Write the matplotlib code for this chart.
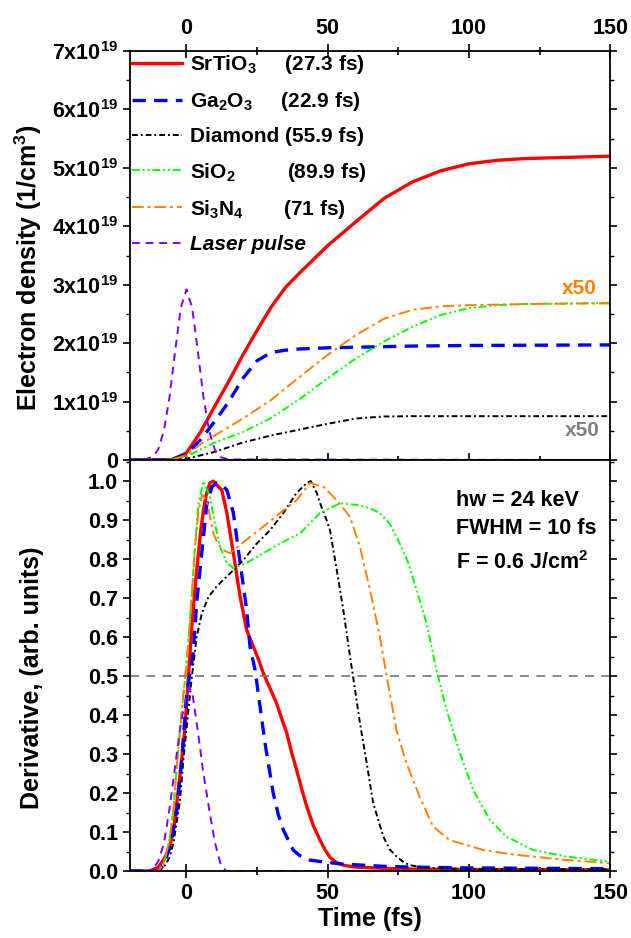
import matplotlib
matplotlib.use("Agg")
import matplotlib.pyplot as plt
from matplotlib.ticker import MultipleLocator, FixedLocator, FormatStrFormatter
import numpy as np

plt.rcParams['font.family'] = ['Liberation Sans', 'DejaVu Sans']
plt.rcParams['font.weight'] = 'bold'
plt.rcParams['mathtext.fontset'] = 'custom'
plt.rcParams['mathtext.rm'] = 'Liberation Sans:bold'
plt.rcParams['mathtext.it'] = 'Liberation Sans:italic:bold'
plt.rcParams['mathtext.bf'] = 'Liberation Sans:bold'
plt.rcParams['axes.linewidth'] = 1.3

# ---- upper panel: electron density (units of 1e19 1/cm^3) ----
t_red = [-20, -10, -5, 0, 5, 10, 15, 20, 25, 30, 35, 40, 50, 60, 70, 80, 90, 100, 110, 120, 135, 150]
red = [0, 0, 0.01, 0.12, 0.48, 0.92, 1.35, 1.8, 2.22, 2.62, 2.95, 3.2, 3.67, 4.08, 4.48, 4.76, 4.95, 5.07, 5.13, 5.16, 5.18, 5.2]

t_blue = [-20, -10, -5, 0, 5, 10, 15, 20, 25, 30, 35, 40, 50, 60, 80, 100, 150]
blue = [0, 0, 0.01, 0.1, 0.35, 0.66, 1.0, 1.4, 1.7, 1.84, 1.88, 1.9, 1.92, 1.93, 1.95, 1.96, 1.97]

t_black = [-20, -10, 0, 10, 20, 30, 40, 50, 60, 70, 80, 150]
black = [0, 0, 0.02, 0.14, 0.3, 0.42, 0.52, 0.62, 0.71, 0.745, 0.75, 0.75]

t_green = [-20, -10, -5, 0, 5, 10, 20, 30, 40, 50, 60, 70, 80, 90, 100, 110, 120, 150]
green = [0, 0, 0.01, 0.06, 0.18, 0.3, 0.48, 0.72, 1.04, 1.4, 1.74, 2.03, 2.28, 2.48, 2.6, 2.65, 2.67, 2.69]

t_orange = [-20, -10, -5, 0, 5, 10, 20, 30, 40, 50, 60, 70, 80, 90, 100, 120, 150]
orange = [0, 0, 0.01, 0.08, 0.27, 0.42, 0.71, 1.03, 1.42, 1.8, 2.14, 2.42, 2.57, 2.63, 2.65, 2.67, 2.68]

t_laser = [-20, -15, -12, -10, -8, -6, -4, -2, 0, 2, 4, 6, 8, 10, 12, 15, 150]
laser = [0, 0.01, 0.05, 0.18, 0.5, 1.08, 1.87, 2.61, 2.92, 2.61, 1.87, 1.08, 0.5, 0.18, 0.05, 0.01, 0]

# ---- lower panel: normalised derivative ----
t_red_d = [-20, -13, -10, -8, -6, -4.5, -3, -1.7, -0.5, 0.7, 2, 3.6, 5, 6, 7, 8.3, 9.5, 10.7, 12.5, 14.3,
           16.6, 19, 21.3, 23.7, 26, 27.2, 29.5, 31.9, 33.5, 35.5, 37, 39, 41, 42.6, 45, 47.3, 49, 50.8,
           53, 56, 60, 70, 80, 100, 150]
red_d = [0, 0, 0.01, 0.03, 0.06, 0.11, 0.2, 0.285, 0.37, 0.5, 0.64, 0.77, 0.87, 0.925, 0.965, 0.995, 1.0,
         0.99, 0.977, 0.918, 0.815, 0.703, 0.618, 0.575, 0.533, 0.507, 0.47, 0.43, 0.395, 0.354, 0.31,
         0.259, 0.205, 0.165, 0.115, 0.079, 0.055, 0.035, 0.022, 0.014, 0.01, 0.007, 0.005, 0.004, 0.003]

t_blue_d = [-20, -10, -8.2, -5.8, -3.4, -1.7, 0.1, 2.4, 3.6, 5.4, 7.2, 9, 10.7, 12.5, 14.3, 16.6, 19,
            21.3, 22.5, 24.3, 25.4, 27.8, 30.7, 32.5, 34.3, 37.8, 40, 43.7, 50, 55, 60, 70, 80, 100, 150]
blue_d = [0, 0, 0.015, 0.062, 0.156, 0.285, 0.456, 0.56, 0.687, 0.815, 0.94, 0.985, 0.995, 0.99, 0.977,
          0.918, 0.79, 0.67, 0.575, 0.515, 0.456, 0.328, 0.2, 0.145, 0.105, 0.054, 0.04, 0.028, 0.022,
          0.018, 0.016, 0.012, 0.01, 0.008, 0.006]

t_black_d = [-20, -10, -8, -6, -4.6, -2.3, -1.1, 0.1, 1.9, 3.6, 5.4, 7.8, 10.7, 15.4, 20.1, 24.9, 29.6,
             34.3, 39, 42.6, 44, 46.1, 47.3, 49.6, 50.8, 53.2, 55.5, 57.9, 59, 61.4, 63.8, 66.1, 69.7,
             72, 74.4, 77, 79.1, 85, 100, 150]
black_d = [0, 0, 0.01, 0.035, 0.072, 0.18, 0.285, 0.37, 0.498, 0.6, 0.66, 0.703, 0.73, 0.763, 0.797,
           0.84, 0.874, 0.918, 0.97, 0.995, 1.0, 0.97, 0.943, 0.9, 0.874, 0.772, 0.67, 0.55, 0.498, 0.38,
           0.277, 0.174, 0.088, 0.055, 0.037, 0.022, 0.015, 0.008, 0.005, 0.004]

t_green_d = [-20, -10, -8, -6, -4.6, -3.4, -2.3, -1, 0, 1, 2, 3, 4.2, 6, 8.3, 10.1, 11.9, 14.3, 16.6,
             21.3, 27.2, 33.1, 40.2, 47.3, 54.3, 61.4, 65, 68.5, 72, 75.5, 78.5, 81.5, 85, 88.5, 92.1,
             96.8, 101.5, 107.4, 113.3, 122.7, 134.5, 150]
green_d = [0, 0, 0.02, 0.08, 0.16, 0.27, 0.36, 0.46, 0.53, 0.62, 0.72, 0.83, 0.94, 1.0, 0.96, 0.89,
           0.83, 0.79, 0.777, 0.79, 0.815, 0.84, 0.866, 0.918, 0.943, 0.938, 0.93, 0.918, 0.89, 0.84,
           0.79, 0.72, 0.635, 0.515, 0.413, 0.302, 0.208, 0.131, 0.088, 0.054, 0.037, 0.024]

t_orange_d = [-20, -10, -8, -6, -4.6, -3.4, -2.3, -1, 0, 1, 2, 3, 4.2, 5.5, 7.2, 9.5, 11, 13, 15.4, 18,
              21.3, 27.2, 33.1, 39, 43.7, 46, 48.5, 52, 55, 57.9, 61.4, 65, 68.5, 70.9, 74.4, 77.9,
              82.6, 87.3, 93.2, 100, 105, 115, 122.7, 135, 150]
orange_d = [0, 0, 0.02, 0.08, 0.16, 0.27, 0.36, 0.46, 0.53, 0.62, 0.72, 0.83, 0.92, 0.965, 0.95, 0.867,
            0.84, 0.823, 0.815, 0.83, 0.85, 0.883, 0.918, 0.951, 0.995, 0.99, 0.985, 0.96, 0.935, 0.908,
            0.832, 0.72, 0.6, 0.498, 0.36, 0.276, 0.19, 0.114, 0.079, 0.065, 0.054, 0.043, 0.037, 0.028,
            0.02]

t_laser_d = [-20, -14, -12, -10, -8, -6, -4, -2, 0, 1, 2, 4, 6, 8, 10, 12, 14, 150]
laser_d = [0, 0, 0.005, 0.025, 0.07, 0.16, 0.27, 0.38, 0.45, 0.47, 0.46, 0.36, 0.25, 0.16, 0.075, 0.02, 0, 0]

names = ["SrTiO$_3$     (27.3 fs)", "Ga$_2$O$_3$     (22.9 fs)", "Diamond (55.9 fs)",
         "SiO$_2$         (89.9 fs)", "Si$_3$N$_4$       (71 fs)", "Laser pulse"]
density_ticks = [0, 1, 2, 3, 4, 5, 6, 7]
density_labels = ["0"] + ["%dx10$^{19}$" % i for i in density_ticks[1:]]

# line styles
st_red = dict(color="#FF0000", lw=2.4, ls="-")
st_blue = dict(color="#0000FF", lw=2.4, ls=(0, (4, 2.5)))
st_black = dict(color="black", lw=1.4, ls=(0, (3, 1.5, 1, 1.5)))
st_green = dict(color="#00FF00", lw=1.4, ls=(0, (4, 1.5, 1, 1.5, 1, 1.5)))
st_orange = dict(color="#FF8000", lw=1.4, ls=(0, (6, 2, 1.5, 2)))
st_laser = dict(color="#8000FF", lw=1.4, ls=(0, (4, 3)))

fig = plt.figure(figsize=(6.31, 9.38), dpi=100)
ax1 = fig.add_axes([0.206, 0.5096, 0.761, 0.4360])
ax2 = fig.add_axes([0.206, 0.0714, 0.761, 0.4382])

ax1.plot(t_red, red, label=names[0], **st_red)
ax1.plot(t_blue, blue, label=names[1], **st_blue)
ax1.plot(t_black, black, label=names[2], **st_black)
ax1.plot(t_green, green, label=names[3], **st_green)
ax1.plot(t_orange, orange, label=names[4], **st_orange)
ax1.plot(t_laser, laser, label=names[5], **st_laser)

ax1.set_xlim(-20, 150)
ax1.set_ylim(0, 7)
ax1.yaxis.set_major_locator(FixedLocator(density_ticks))
ax1.yaxis.set_minor_locator(MultipleLocator(0.5))
ax1.set_yticklabels(density_labels)
ax1.xaxis.set_major_locator(MultipleLocator(50))
ax1.xaxis.set_minor_locator(MultipleLocator(25))
ax1.tick_params(axis="x", which="both", top=True, bottom=True, labeltop=True, labelbottom=False,
                direction="inout", length=10, width=1.2, labelsize=15.5)
ax1.tick_params(axis="x", which="minor", length=6)
ax1.tick_params(axis="y", which="major", left=True, right=True, direction="out", length=5,
                width=1.2, labelsize=15.5)
ax1.tick_params(axis="y", which="minor", left=True, right=True, direction="out", length=3, width=1.0)
ax1.set_ylabel("Electron density (1/cm$^3$)", fontsize=18, fontweight="bold")
ax1.yaxis.set_label_coords(-0.18, 0.47)

leg = ax1.legend(loc="upper left", frameon=False, fontsize=15, handlelength=2.4,
                 handletextpad=0.4, labelspacing=0.68, borderaxespad=0.1, borderpad=0.0)
leg.get_texts()[5].set_fontstyle("italic")

ax1.text(139, 2.93, "x50", color="#FF8000", fontsize=15, fontweight="bold", ha="center", va="center")
ax1.text(140, 0.51, "x50", color="#808080", fontsize=15, fontweight="bold", ha="center", va="center")

ax2.plot(t_red_d, red_d, **st_red)
ax2.plot(t_blue_d, blue_d, **st_blue)
ax2.plot(t_black_d, black_d, **st_black)
ax2.plot(t_green_d, green_d, **st_green)
ax2.plot(t_orange_d, orange_d, **st_orange)
ax2.plot(t_laser_d, laser_d, **st_laser)
ax2.axhline(0.5, color="#808080", lw=1.3, ls=(0, (5, 4)))

ax2.set_xlim(-20, 150)
ax2.set_ylim(0, 1.054)
ax2.yaxis.set_major_locator(FixedLocator(np.arange(0, 1.01, 0.1)))
ax2.yaxis.set_major_formatter(FormatStrFormatter("%.1f"))
ax2.yaxis.set_minor_locator(MultipleLocator(0.05))
ax2.xaxis.set_major_locator(MultipleLocator(50))
ax2.xaxis.set_minor_locator(MultipleLocator(25))
ax2.tick_params(axis="x", which="both", bottom=True, top=False, direction="inout", length=10,
                width=1.2, labelsize=15.5)
ax2.tick_params(axis="x", which="minor", length=6)
ax2.tick_params(axis="y", which="major", left=True, right=True, direction="out", length=5, width=1.2,
                labelsize=15.5)
ax2.tick_params(axis="y", which="minor", left=True, right=True, direction="out", length=3, width=1.0)
ax2.set_xlabel("Time (fs)", fontsize=18, fontweight="bold", labelpad=2)
ax2.set_ylabel("Derivative, (arb. units)", fontsize=18, fontweight="bold")
ax2.yaxis.set_label_coords(-0.18, 0.47)

ax2.text(95.5, 0.951, "hw = 24 keV", fontsize=15.5, fontweight="bold", va="center")
ax2.text(95.5, 0.879, "FWHM = 10 fs", fontsize=15.5, fontweight="bold", va="center")
ax2.text(95.5, 0.79, "F = 0.6 J/cm$^2$", fontsize=15.5, fontweight="bold", va="center")

plt.savefig("out.png", dpi=100)
